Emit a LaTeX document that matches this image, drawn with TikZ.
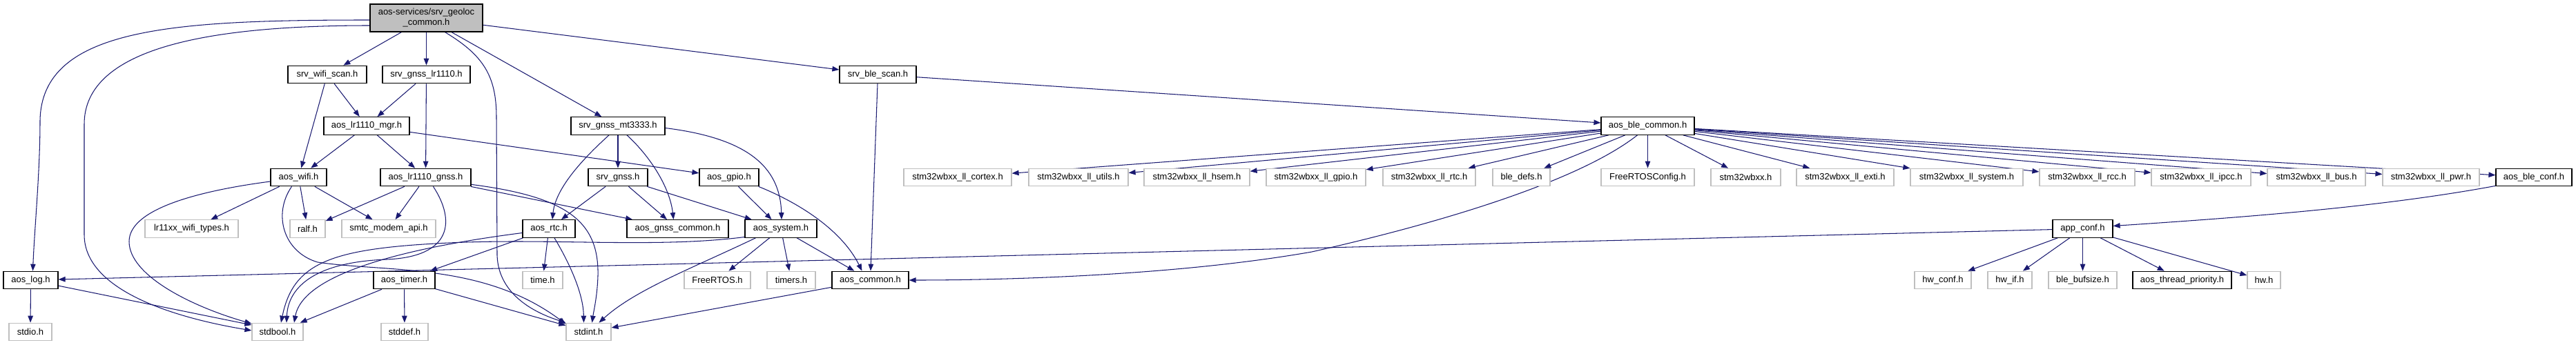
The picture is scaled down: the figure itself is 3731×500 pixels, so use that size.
\documentclass[tikz,border=0pt]{standalone}
\usepackage{fontspec}
\setmainfont{Liberation Sans}
\usetikzlibrary{arrows.meta,calc,backgrounds}
\definecolor{edgeblue}{HTML}{191970}
\definecolor{boxgray}{HTML}{BFBFBF}
\begin{document}
\begin{tikzpicture}[x=1pt,y=-1pt,
  every node/.style={font=\fontsize{13}{15}\selectfont},
  box/.style={rectangle, inner sep=0pt, minimum height=25.5pt, fill=white, line width=1.2pt},
  doc/.style={box, draw=black},
  ext/.style={box, draw=boxgray},
  e/.style={draw=edgeblue, line width=1.05pt, -{Triangle[length=10pt,width=7.5pt]}}]
\useasboundingbox (0,0) rectangle (3731,500);
% row 1
\node[doc, fill=boxgray, minimum width=163pt, minimum height=40pt, align=center] (top) at (617.5,26) {aos-services/srv\_geoloc\\\_common.h};
% row 2
\node[doc, minimum width=114pt] (srvwifi) at (474,108) {srv\_wifi\_scan.h};
\node[doc, minimum width=127pt] (srvlr) at (617.5,108) {srv\_gnss\_lr1110.h};
\node[doc, minimum width=111pt] (srvble) at (1271.5,108) {srv\_ble\_scan.h};
% row 3
\node[doc, minimum width=124pt] (mgr) at (531,182.5) {aos\_lr1110\_mgr.h};
\node[doc, minimum width=136pt] (mt3333) at (895,182.5) {srv\_gnss\_mt3333.h};
\node[doc, minimum width=135pt] (blecommon) at (2386.5,182.5) {aos\_ble\_common.h};
% row 4
\node[doc, minimum width=81pt] (wifi) at (432.5,257) {aos\_wifi.h};
\node[doc, minimum width=131pt] (lrgnss) at (616.5,257) {aos\_lr1110\_gnss.h};
\node[doc, minimum width=86pt] (srvgnss) at (895,257) {srv\_gnss.h};
\node[doc, minimum width=86pt] (gpio) at (1056,257) {aos\_gpio.h};
\node[ext, minimum width=156pt] (cortex) at (1387,257) {stm32wbxx\_ll\_cortex.h};
\node[ext, minimum width=144pt] (utils) at (1562,257) {stm32wbxx\_ll\_utils.h};
\node[ext, minimum width=153pt] (hsem) at (1733.5,257) {stm32wbxx\_ll\_hsem.h};
\node[ext, minimum width=144pt] (llgpio) at (1906,257) {stm32wbxx\_ll\_gpio.h};
\node[ext, minimum width=134pt] (llrtc) at (2070,257) {stm32wbxx\_ll\_rtc.h};
\node[ext, minimum width=83pt] (bledefs) at (2203.5,257) {ble\_defs.h};
\node[ext, minimum width=135pt] (frcfg) at (2386.5,257) {FreeRTOSConfig.h};
\node[ext, minimum width=101pt] (stm32) at (2528.5,257) {stm32wbxx.h};
\node[ext, minimum width=141pt] (exti) at (2672.5,257) {stm32wbxx\_ll\_exti.h};
\node[ext, minimum width=163pt] (llsys) at (2848.5,257) {stm32wbxx\_ll\_system.h};
\node[ext, minimum width=138pt] (rcc) at (3023,257) {stm32wbxx\_ll\_rcc.h};
\node[ext, minimum width=144pt] (ipcc) at (3188,257) {stm32wbxx\_ll\_ipcc.h};
\node[ext, minimum width=142pt] (bus) at (3355,257) {stm32wbxx\_ll\_bus.h};
\node[ext, minimum width=140pt] (pwr) at (3521,257) {stm32wbxx\_ll\_pwr.h};
\node[doc, minimum width=110pt] (bleconf) at (3670,257) {aos\_ble\_conf.h};
% row 5
\node[ext, minimum width=135pt] (lrtypes) at (277.5,331.5) {lr11xx\_wifi\_types.h};
\node[ext, minimum width=51pt] (ralf) at (445.5,331.5) {ralf.h};
\node[ext, minimum width=136pt] (smtc) at (563,331.5) {smtc\_modem\_api.h};
\node[doc, minimum width=76pt] (rtc) at (795,331.5) {aos\_rtc.h};
\node[doc, minimum width=147pt] (gnsscommon) at (981.5,331.5) {aos\_gnss\_common.h};
\node[doc, minimum width=104pt] (system) at (1131,331.5) {aos\_system.h};
\node[doc, minimum width=87pt] (appconf) at (3016.5,331.5) {app\_conf.h};
% row 6
\node[doc, minimum width=79pt] (log) at (44.5,406) {aos\_log.h};
\node[doc, minimum width=89pt] (timer) at (585.5,406) {aos\_timer.h};
\node[ext, minimum width=58pt] (time) at (786,406) {time.h};
\node[ext, minimum width=96pt] (freertos) at (1039,406) {FreeRTOS.h};
\node[ext, minimum width=70pt] (timers) at (1146,406) {timers.h};
\node[doc, minimum width=111pt] (common) at (1260.5,406) {aos\_common.h};
\node[ext, minimum width=82pt] (hwconf) at (2814,406) {hw\_conf.h};
\node[ext, minimum width=64pt] (hwif) at (2911,406) {hw\_if.h};
\node[ext, minimum width=99pt] (bufsize) at (3016.5,406) {ble\_bufsize.h};
\node[doc, minimum width=143pt] (prio) at (3160.5,406) {aos\_thread\_priority.h};
\node[ext, minimum width=48pt] (hw) at (3279,406) {hw.h};
% row 7
\node[ext, minimum width=62pt] (stdio) at (44,481) {stdio.h};
\node[ext, minimum width=74pt] (stdbool) at (402,481) {stdbool.h};
\node[ext, minimum width=68pt] (stddef) at (586,481) {stddef.h};
\node[ext, minimum width=65pt] (stdint) at (852.5,481) {stdint.h};

\begin{pgfonlayer}{background}
% from top node
\draw[e] ($(top.west)+(0,3)$) .. controls (250,29) and (60,40) .. (58,175) .. controls (58,250) and (50,330) .. ($(log.north)+(3,0)$);
\draw[e] ($(top.west)+(0,11)$) .. controls (300,37) and (122,70) .. (122,180) -- (122,340) .. controls (122,420) and (250,460) .. ($(stdbool.west)+(0,-2)$);
\draw[e] (top) -- (srvwifi);
\draw[e] (top) -- (srvlr);
\draw[e] ($(top.south)+(27,0)$) .. controls (700,80) and (719,110) .. (719,170) -- (720,370) .. controls (722,430) and (780,455) .. (stdint.north west);
\draw[e] (top) -- (mt3333);
\draw[e] (top) -- (srvble);
% level 2
\draw[e] (srvwifi) -- (mgr);
\draw[e] (srvwifi) -- (wifi);
\draw[e] (srvlr) -- (mgr);
\draw[e] (srvlr) -- (lrgnss);
\draw[e] (mgr) -- (wifi);
\draw[e] (mgr) -- (lrgnss);
\draw[e] (mgr) -- (gpio);
% aos_wifi
\draw[e] ($(wifi.west)+(0,6)$) .. controls (300,275) and (187,300) .. (187,350) .. controls (187,400) and (280,445) .. ($(stdbool.west)+(0,-12)$);
\draw[e] (wifi) -- (lrtypes);
\draw[e] (wifi) -- (ralf);
\draw[e] (wifi) -- (smtc);
\draw[e] ($(wifi.south)+(-10,0)$) .. controls (395,310) and (410,365) .. (460,380) .. controls (560,395) and (700,380) .. ($(stdint.north west)+(0,2)$);
% aos_lr1110_gnss
\draw[e] (lrgnss) -- (ralf);
\draw[e] (lrgnss) -- (smtc);
\draw[e] ($(lrgnss.south)+(11,0)$) .. controls (660,320) and (655,372) .. (560,376) .. controls (450,380) and (417,420) .. ($(stdbool.north)+(13,0)$);
\draw[e] ($(lrgnss.south east)+(0,-3)$) .. controls (820,285) and (868,320) .. (866,400) .. controls (865,430) and (860,450) .. ($(stdint.north)+(5,0)$);
\draw[e] (lrgnss) -- (gnsscommon);
% srv_gnss_mt3333
\draw[e] (mt3333) -- (srvgnss);
\draw[e] ($(mt3333.south)+(-13,0)$) .. controls (850,225) and (805,270) .. ($(rtc.north)+(5,0)$);
\draw[e] ($(mt3333.south)+(13,0)$) .. controls (940,225) and (970,270) .. ($(gnsscommon.north)+(-6,0)$);
\draw[e] ($(mt3333.east)+(0,3)$) .. controls (1080,200) and (1130,240) .. ($(system.north)+(1,0)$);
% srv_gnss
\draw[e] (srvgnss) -- (rtc);
\draw[e] (srvgnss) -- (gnsscommon);
\draw[e] (srvgnss) -- (system);
% aos_gpio
\draw[e] (gpio) -- (system);
\draw[e] ($(gpio.south east)+(-1,0)$) .. controls (1160,295) and (1220,335) .. ($(common.north)+(-12,0)$);
% aos_rtc
\draw[e] ($(rtc.west)+(0,6)$) .. controls (620,355) and (440,390) .. ($(stdbool.north)+(24,0)$);
\draw[e] (rtc) -- (timer);
\draw[e] (rtc) -- (time);
\draw[e] ($(rtc.south)+(8,0)$) .. controls (830,390) and (845,430) .. ($(stdint.north)+(-7,0)$);
% aos_system
\draw[e] ($(system.west)+(0,12)$) .. controls (950,360) and (800,345) .. (650,352) .. controls (480,360) and (425,380) .. ($(stdbool.north)+(5,0)$);
\draw[e] ($(system.south west)+(16,0)$) .. controls (1000,390) and (920,420) .. ($(stdint.north)+(15,0)$);
\draw[e] (system) -- (freertos);
\draw[e] (system) -- (timers);
\draw[e] (system) -- (common);
% aos_timer, aos_log, aos_common
\draw[e] (timer) -- (stdbool);
\draw[e] (timer) -- (stddef);
\draw[e] (timer) -- (stdint);
\draw[e] (log) -- (stdio);
\draw[e] (log) -- ($(stdbool.west)+(0,-10)$);
\draw[e] (common) -- (stdint);
% ble side
\draw[e] (srvble) -- (common);
\draw[e] (srvble) -- (blecommon);
\foreach \t in {cortex,utils,hsem,llgpio,llrtc,bledefs,frcfg,stm32,exti,llsys,rcc,ipcc,bus,pwr,bleconf}
  \draw[e] (blecommon) -- (\t);
\draw[e] ($(blecommon.south)+(-15,0)$) .. controls (2290,260) and (2100,320) .. (1900,365) .. controls (1700,400) and (1450,406) .. (common.east);
\draw[e] ($(bleconf.south west)+(0,-1)$) .. controls (3450,300) and (3250,315) .. ($(appconf.east)+(0,-4)$);
\draw[e] (appconf) -- (log);
\foreach \t in {hwconf,hwif,bufsize,prio,hw}
  \draw[e] (appconf) -- (\t);
\end{pgfonlayer}
\end{tikzpicture}
\end{document}
